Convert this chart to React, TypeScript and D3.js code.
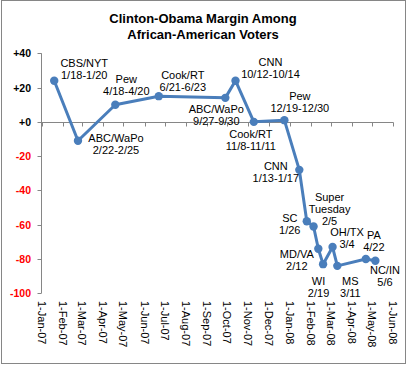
import React from 'react';
import * as d3 from 'd3';

// poll dates (midpoint of field period) and Clinton minus Obama margin
const pollDates = [
  '2007-01-19', '2007-02-23', '2007-04-19', '2007-06-22', '2007-09-28', '2007-10-13',
  '2007-11-09', '2007-12-24', '2008-01-15', '2008-01-26', '2008-02-05', '2008-02-12',
  '2008-02-19', '2008-03-04', '2008-03-11', '2008-04-22', '2008-05-06',
];
const margins = [24, -11, 10, 15, 14, 24, 0, 1, -28, -58, -61, -74, -83, -73, -84, -80, -81];
const pollLabels = [
  ['CBS/NYT', '1/18-1/20'],
  ['ABC/WaPo', '2/22-2/25'],
  ['Pew', '4/18-4/20'],
  ['Cook/RT', '6/21-6/23'],
  ['ABC/WaPo', '9/27-9/30'],
  ['CNN', '10/12-10/14'],
  ['Cook/RT', '11/8-11/11'],
  ['Pew', '12/19-12/30'],
  ['CNN', '1/13-1/17'],
  ['SC', '1/26'],
  ['Super', 'Tuesday', '2/5'],
  ['MD/VA', '2/12'],
  ['WI', '2/19'],
  ['OH/TX', '3/4'],
  ['MS', '3/11'],
  ['PA', '4/22'],
  ['NC/IN', '5/6'],
];
const yTicks = [40, 20, 0, -20, -40, -60, -80, -100];

// where each label sits relative to its point (dx, dy of first baseline)
const labelOffsets = [
  [30, -13.5], [38, 1], [11, -21.5], [24, -17], [-9, 15.5], [35, -15],
  [-3, 16], [15.5, -20.5], [-23.5, 0], [-17, 0.5], [16, -25], [-21.5, 9.5],
  [-4.5, 20.5], [14.5, -11.3], [13, 19], [8, -20.3], [9.6, 13.5],
];

const W = 407;
const H = 366;
const font = '"Liberation Sans", Arial, sans-serif';
const blue = '#4a7ebb';

export default function App() {
  const parse = d3.timeParse('%Y-%m-%d');
  const data = pollDates.map((d, i) => ({ date: parse(d) as Date, value: margins[i] }));

  const x = d3.scaleTime()
    .domain([new Date(2007, 0, 1), new Date(2008, 5, 1)])
    .range([42, 393]);
  const y = d3.scaleLinear().domain([-100, 40]).range([293.3, 53.3]);

  const months = d3.timeMonth.range(new Date(2007, 0, 1), new Date(2008, 5, 2));
  const fmtMonth = d3.timeFormat('%b-%y');

  const line = d3.line<{ date: Date; value: number }>()
    .x(d => x(d.date))
    .y(d => y(d.value));

  const y0 = y(0);

  return (
    <svg width={W} height={H} style={{ position: 'absolute', left: 0, top: 0 }}>
      <rect x={0} y={0} width={W} height={H} fill="#fff" />
      <rect x={1.5} y={0.5} width={404} height={363} fill="none" stroke="#868686" strokeWidth={1} />

      <text x={203} y={23} textAnchor="middle" fontFamily={font} fontWeight="bold" fontSize={13}>
        Clinton-Obama Margin Among
      </text>
      <text x={203} y={39} textAnchor="middle" fontFamily={font} fontWeight="bold" fontSize={13}>
        African-American Voters
      </text>

      {/* y axis */}
      <line x1={41.5} x2={41.5} y1={y(40)} y2={y(-100)} stroke="#868686" />
      {yTicks.map(t => (
        <g key={t}>
          <line x1={37.5} x2={41.5} y1={Math.round(y(t)) + 0.5} y2={Math.round(y(t)) + 0.5} stroke="#868686" />
          <text x={31} y={y(t) + 4} textAnchor="end" fontFamily={font} fontWeight="bold" fontSize={10.5}
            fill={t < 0 ? '#ff0000' : '#000'}>
            {t < 0 ? `${t}` : `+${t}`}
          </text>
        </g>
      ))}

      {/* x axis crossing at zero */}
      <line x1={41.5} x2={393.5} y1={Math.round(y0) + 0.5} y2={Math.round(y0) + 0.5} stroke="#868686" />
      {months.map((m, i) => (
        <g key={i}>
          <line x1={Math.round(x(m)) + 0.5} x2={Math.round(x(m)) + 0.5}
            y1={Math.round(y0) + 0.5} y2={Math.round(y0) + 4.5} stroke="#868686" />
          <text transform={`translate(${x(m) - 4},301) rotate(90)`} fontFamily={font} fontSize={11}>
            {`1-${fmtMonth(m)}`}
          </text>
        </g>
      ))}

      <path d={line(data) || ''} fill="none" stroke={blue} strokeWidth={3} strokeLinejoin="round" />
      {data.map((d, i) => (
        <circle key={i} cx={x(d.date)} cy={y(d.value)} r={4.2} fill={blue} />
      ))}

      {data.map((d, i) => (
        <text key={i} fontFamily={font} fontSize={11} textAnchor="middle" fill="#000">
          {pollLabels[i].map((s, j) => (
            <tspan key={j} x={x(d.date) + labelOffsets[i][0]} y={y(d.value) + labelOffsets[i][1] + j * 12}>
              {s}
            </tspan>
          ))}
        </text>
      ))}
    </svg>
  );
}
